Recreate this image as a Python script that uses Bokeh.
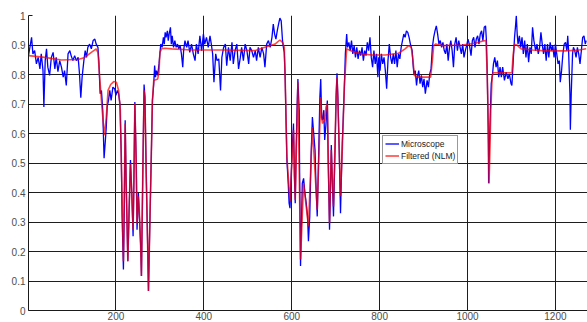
from bokeh.plotting import figure
from bokeh.models import (FixedTicker, CustomJSTickFormatter, Range1d, Legend,
                          LegendItem)
from bokeh.embed import file_html
from bokeh.resources import INLINE

# ---- data ----
micro_x = [1, 8, 11, 15, 19, 23, 27, 30, 34, 36, 39, 42, 45, 49, 53, 57, 61, 64, 68, 72,
           76, 80, 83, 87, 91, 95, 98, 102, 106, 110, 114, 117, 120, 123, 127, 130, 133,
           136, 140, 144, 148, 152, 155, 159, 161, 164, 167, 170, 172, 173, 176, 178, 180,
           183, 186, 189, 193, 197, 200, 203, 206, 209, 212, 214, 217, 219, 221, 223, 227,
           230, 233, 236, 239, 241, 243, 246, 248, 251, 253, 256, 258, 261, 264, 266, 269,
           272, 274, 277, 281, 283, 286, 288, 290, 292, 295, 298, 300, 302, 305, 308, 310,
           312, 314, 317, 319, 321, 324, 326, 328, 331, 334, 337, 340, 343, 346, 349, 352,
           354, 357, 361, 364, 368, 372, 376, 380, 383, 387, 391, 395, 399, 402, 406, 410,
           414, 417, 420, 423, 427, 430, 434, 438, 441, 445, 449, 452, 456, 460, 464, 467,
           471, 475, 479, 483, 486, 490, 494, 498, 502, 505, 509, 513, 517, 520, 524, 528,
           532, 536, 539, 543, 547, 551, 555, 558, 561, 564, 567, 570, 573, 576, 579, 581,
           583, 585, 587, 589, 592, 594, 596, 598, 601, 604, 606, 608, 610, 612, 614, 617,
           618, 620, 622, 624, 627, 630, 633, 636, 638, 641, 644, 647, 650, 653, 655, 658,
           661, 664, 666, 668, 670, 673, 675, 678, 681, 683, 686, 688, 690, 692, 695, 698,
           701, 703, 705, 708, 711, 713, 715, 717, 720, 722, 725, 727, 730, 733, 736, 739,
           742, 745, 748, 751, 754, 757, 760, 763, 766, 769, 772, 775, 778, 781, 784, 787,
           790, 793, 796, 798, 801, 804, 807, 810, 813, 816, 819, 822, 825, 828, 831, 834,
           837, 840, 843, 846, 849, 852, 855, 858, 861, 864, 867, 870, 874, 876, 878, 881,
           884, 886, 889, 892, 895, 898, 901, 904, 908, 911, 914, 917, 920, 923, 926, 929,
           932, 935, 938, 941, 944, 947, 950, 953, 956, 959, 962, 965, 968, 971, 974, 977,
           980, 983, 986, 989, 992, 995, 998, 1001, 1004, 1008, 1011, 1014, 1017, 1020,
           1023, 1026, 1029, 1032, 1035, 1038, 1041, 1043, 1045, 1047, 1048, 1050, 1052,
           1054, 1057, 1059, 1062, 1065, 1068, 1071, 1074, 1077, 1080, 1084, 1088, 1092,
           1095, 1099, 1101, 1104, 1107, 1109, 1111, 1113, 1115, 1118, 1121, 1124, 1127,
           1130, 1133, 1136, 1139, 1142, 1145, 1148, 1151, 1155, 1158, 1161, 1164, 1167,
           1170, 1173, 1176, 1179, 1182, 1185, 1188, 1191, 1194, 1197, 1200, 1203, 1206,
           1209, 1211, 1214, 1217, 1220, 1223, 1226, 1228, 1230, 1233, 1234, 1236, 1239,
           1241, 1244, 1247, 1250, 1253, 1256, 1259, 1262, 1265, 1268, 1270]
micro_y = [0.864, 0.926, 0.870, 0.881, 0.836, 0.858, 0.819, 0.870, 0.813, 0.690, 0.847,
           0.887, 0.825, 0.797, 0.858, 0.875, 0.819, 0.858, 0.810, 0.847, 0.825, 0.791,
           0.813, 0.763, 0.870, 0.881, 0.864, 0.847, 0.864, 0.847, 0.858, 0.803, 0.721,
           0.791, 0.847, 0.881, 0.858, 0.892, 0.903, 0.887, 0.915, 0.920, 0.903, 0.892,
           0.847, 0.735, 0.746, 0.679, 0.566, 0.516, 0.578, 0.622, 0.690, 0.712, 0.746,
           0.712, 0.757, 0.752, 0.729, 0.746, 0.735, 0.701, 0.533, 0.319, 0.139, 0.342,
           0.645, 0.454, 0.167, 0.342, 0.510, 0.398, 0.252, 0.454, 0.707, 0.510, 0.274,
           0.398, 0.330, 0.229, 0.117, 0.454, 0.766, 0.724, 0.454, 0.229, 0.066, 0.285,
           0.566, 0.712, 0.769, 0.830, 0.791, 0.813, 0.797, 0.836, 0.870, 0.903, 0.892,
           0.926, 0.903, 0.943, 0.926, 0.948, 0.915, 0.937, 0.960, 0.903, 0.931, 0.892,
           0.915, 0.892, 0.903, 0.887, 0.898, 0.870, 0.825, 0.881, 0.915, 0.892, 0.915,
           0.875, 0.903, 0.870, 0.847, 0.903, 0.870, 0.931, 0.881, 0.937, 0.903, 0.926,
           0.892, 0.931, 0.903, 0.870, 0.774, 0.870, 0.847, 0.853, 0.746, 0.858, 0.892,
           0.903, 0.830, 0.892, 0.847, 0.909, 0.836, 0.881, 0.903, 0.819, 0.858, 0.892,
           0.847, 0.903, 0.881, 0.836, 0.892, 0.881, 0.858, 0.881, 0.847, 0.892, 0.858,
           0.892, 0.870, 0.825, 0.903, 0.915, 0.892, 0.926, 0.971, 0.937, 0.920, 0.948,
           0.971, 0.991, 0.982, 0.915, 0.892, 0.875, 0.791, 0.645, 0.510, 0.431, 0.364,
           0.347, 0.431, 0.544, 0.634, 0.454, 0.364, 0.544, 0.679, 0.785, 0.679, 0.454,
           0.151, 0.285, 0.431, 0.448, 0.398, 0.364, 0.319, 0.235, 0.319, 0.521, 0.656,
           0.600, 0.544, 0.431, 0.319, 0.510, 0.724, 0.785, 0.656, 0.645, 0.679, 0.578,
           0.634, 0.712, 0.499, 0.274, 0.398, 0.561, 0.454, 0.319, 0.510, 0.724, 0.804,
           0.724, 0.544, 0.330, 0.454, 0.566, 0.645, 0.769, 0.870, 0.937, 0.892, 0.909,
           0.881, 0.915, 0.870, 0.898, 0.858, 0.892, 0.853, 0.881, 0.864, 0.892, 0.847,
           0.881, 0.864, 0.909, 0.881, 0.926, 0.858, 0.825, 0.881, 0.836, 0.870, 0.791,
           0.858, 0.813, 0.870, 0.836, 0.858, 0.813, 0.752, 0.847, 0.903, 0.858, 0.836,
           0.870, 0.836, 0.881, 0.825, 0.870, 0.853, 0.892, 0.915, 0.937, 0.926, 0.948,
           0.943, 0.926, 0.903, 0.881, 0.836, 0.802, 0.813, 0.763, 0.791, 0.813, 0.769,
           0.797, 0.757, 0.785, 0.735, 0.780, 0.757, 0.802, 0.819, 0.892, 0.926, 0.948,
           0.965, 0.937, 0.903, 0.915, 0.892, 0.909, 0.881, 0.870, 0.903, 0.847, 0.892,
           0.915, 0.881, 0.825, 0.903, 0.926, 0.881, 0.915, 0.892, 0.870, 0.903, 0.858,
           0.881, 0.898, 0.920, 0.903, 0.864, 0.915, 0.926, 0.892, 0.920, 0.931, 0.903,
           0.937, 0.948, 0.915, 0.960, 0.965, 0.915, 0.791, 0.622, 0.431, 0.566, 0.679,
           0.769, 0.802, 0.836, 0.858, 0.825, 0.847, 0.791, 0.825, 0.791, 0.825, 0.780,
           0.808, 0.785, 0.802, 0.769, 0.763, 0.847, 0.926, 0.960, 0.999, 0.937, 0.903,
           0.931, 0.892, 0.926, 0.870, 0.915, 0.858, 0.903, 0.842, 0.892, 0.870, 0.960,
           0.915, 0.881, 0.903, 0.870, 0.892, 0.943, 0.903, 0.870, 0.903, 0.847, 0.903,
           0.858, 0.909, 0.881, 0.898, 0.858, 0.903, 0.870, 0.836, 0.847, 0.774, 0.813,
           0.870, 0.903, 0.909, 0.881, 0.931, 0.881, 0.735, 0.613, 0.735, 0.870, 0.892,
           0.881, 0.858, 0.892, 0.870, 0.836, 0.881, 0.926, 0.931, 0.903, 0.915]

nlm_x = [1, 38, 76, 114, 129, 144, 155, 159, 163, 168, 172, 174, 178, 182, 188, 195, 201,
         206, 210, 213, 216, 217, 219, 221, 223, 227, 230, 233, 236, 239, 241, 243, 246,
         248, 251, 253, 256, 258, 261, 264, 266, 269, 272, 274, 277, 281, 283, 286, 295,
         298, 300, 304, 311, 327, 372, 448, 517, 539, 562, 573, 579, 583, 585, 589, 596,
         604, 608, 614, 620, 627, 638, 647, 658, 666, 668, 670, 675, 678, 681, 686, 690,
         695, 701, 703, 705, 711, 715, 720, 725, 733, 745, 760, 783, 813, 843, 858, 866,
         872, 876, 879, 889, 916, 920, 923, 927, 942, 988, 1018, 1033, 1042, 1045, 1048,
         1049, 1051, 1053, 1056, 1058, 1079, 1101, 1104, 1107, 1114, 1122, 1148, 1179,
         1224, 1254, 1270]
nlm_y = [0.864, 0.858, 0.849, 0.851, 0.858, 0.875, 0.887, 0.875, 0.791, 0.690, 0.622,
         0.594, 0.656, 0.746, 0.766, 0.776, 0.774, 0.746, 0.679, 0.454, 0.229, 0.167,
         0.400, 0.634, 0.454, 0.167, 0.342, 0.499, 0.398, 0.274, 0.454, 0.701, 0.510,
         0.297, 0.387, 0.342, 0.229, 0.117, 0.454, 0.746, 0.712, 0.454, 0.229, 0.066,
         0.285, 0.566, 0.712, 0.780, 0.785, 0.808, 0.875, 0.887, 0.889, 0.887, 0.883,
         0.883, 0.881, 0.892, 0.903, 0.917, 0.909, 0.892, 0.791, 0.521, 0.370, 0.612,
         0.375, 0.774, 0.173, 0.431, 0.285, 0.622, 0.342, 0.724, 0.656, 0.634, 0.645,
         0.690, 0.701, 0.297, 0.544, 0.353, 0.724, 0.791, 0.712, 0.387, 0.544, 0.769,
         0.887, 0.881, 0.875, 0.870, 0.866, 0.866, 0.872, 0.887, 0.898, 0.892, 0.847,
         0.797, 0.791, 0.791, 0.847, 0.898, 0.903, 0.898, 0.900, 0.906, 0.913, 0.915,
         0.791, 0.566, 0.431, 0.544, 0.679, 0.791, 0.806, 0.806, 0.806, 0.870, 0.903,
         0.898, 0.887, 0.883, 0.880, 0.880, 0.883, 0.887]

x_ticks = [200, 400, 600, 800, 1000, 1200]
y_ticks = [0, 0.1, 0.2, 0.3, 0.4, 0.5, 0.6, 0.7, 0.8, 0.9, 1]
labels = ["Microscope", "Filtered (NLM)"]

FONT = "Liberation Sans"

p = figure(width=587, height=322, output_backend="svg", toolbar_location=None,
           x_range=Range1d(1, 1273), y_range=Range1d(0, 1),
           min_border_left=28, min_border_right=0, min_border_top=15,
           min_border_bottom=10)
p.outline_line_color = None
p.background_fill_color = "white"
p.border_fill_color = "white"

r1 = p.line(micro_x, micro_y, color="#0000ff", line_width=1.3)
r2 = p.line(nlm_x, nlm_y, color="#ff0000", line_width=1.6, line_alpha=0.72)

p.xaxis.ticker = FixedTicker(ticks=x_ticks)
p.yaxis.ticker = FixedTicker(ticks=y_ticks)
p.yaxis.formatter = CustomJSTickFormatter(code="return String(Math.round(tick*10)/10);")
for ax in (p.xaxis[0], p.yaxis[0]):
    ax.major_tick_in = 4
    ax.major_tick_out = 0
    ax.minor_tick_in = 0
    ax.minor_tick_out = 0
    ax.axis_line_color = "#1a1a1a"
    ax.major_tick_line_color = "#1a1a1a"
    ax.major_label_text_font = FONT
    ax.major_label_text_font_size = "10px"
    ax.major_label_text_color = "#4d4d4d"
p.yaxis.major_label_standoff = 3
p.xaxis.major_label_standoff = 1

p.xgrid.ticker = FixedTicker(ticks=x_ticks)
p.ygrid.ticker = FixedTicker(ticks=y_ticks)
p.grid.grid_line_color = "#1e1e1e"
p.grid.grid_line_alpha = 1.0
p.grid.grid_line_width = 1

legend = Legend(items=[LegendItem(label=labels[0], renderers=[r1]),
                       LegendItem(label=labels[1], renderers=[r2])],
                location=(354, 146))
legend.label_text_font = FONT
legend.label_text_font_size = "8.5px"
legend.label_text_color = "#222222"
legend.glyph_width = 14
legend.glyph_height = 11
legend.label_height = 11
legend.label_standoff = 2
legend.padding = 2
legend.spacing = 1
legend.margin = 0
legend.border_line_color = "#333333"
legend.border_line_width = 1
legend.background_fill_alpha = 1
p.add_layout(legend)

open("out.html", "w").write(file_html(p, INLINE))
